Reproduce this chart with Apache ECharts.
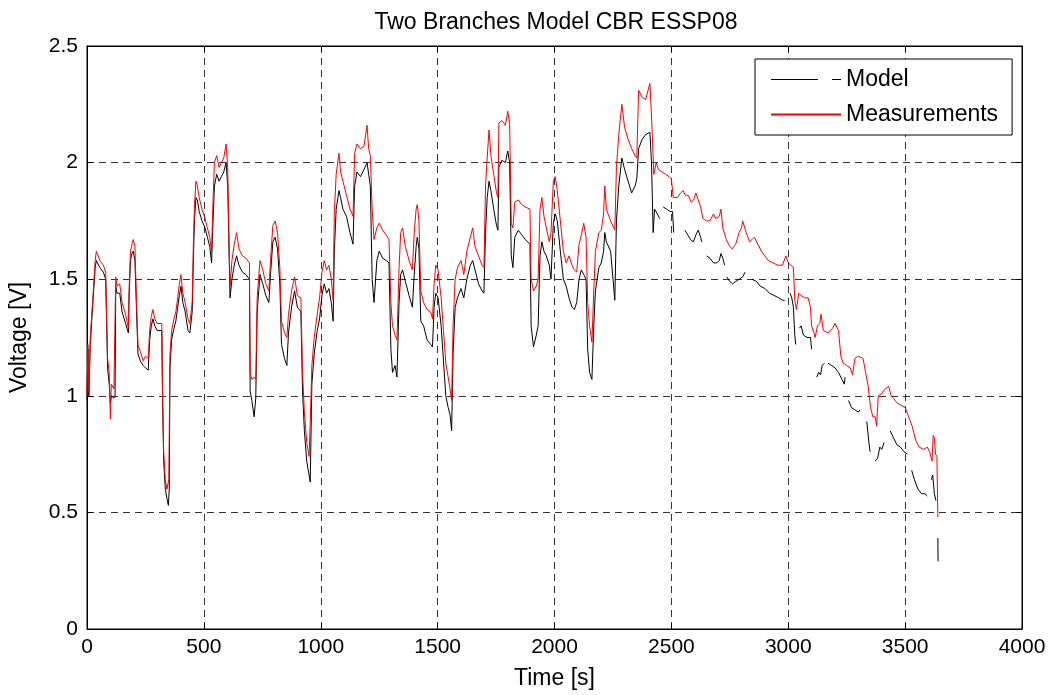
<!DOCTYPE html>
<html>
<head>
<meta charset="utf-8">
<script src="https://cdn.jsdelivr.net/npm/echarts@6/dist/echarts.min.js"></script>
<style>
html,body{margin:0;padding:0;background:#fff;}
#chart{width:1052px;height:695px;}
</style>
</head>
<body>
<div id="chart"></div>
<script>
const chartTitle = 'Two Branches Model CBR ESSP08';
const seriesNames = ['Model', 'Measurements'];
const xTicks = [0, 500, 1000, 1500, 2000, 2500, 3000, 3500, 4000];
const yTicks = [0, 0.5, 1, 1.5, 2, 2.5];

const tMeas = [0,4,8,14,25,35,40,55,70,80,86,88,95,100,104,115,120,123,128,140,150,165,177,180,186,192,198,205,212,218,228,240,250,262,268,275,282,290,300,320,323,328,335,342,350,355,362,372,380,388,395,402,410,420,432,440,450,455,460,466,472,480,492,505,515,525,533,538,545,555,565,575,585,595,602,606,612,620,630,640,650,665,680,695,698,705,715,722,728,740,752,765,778,785,795,805,815,825,832,845,855,862,875,888,900,915,922,930,940,950,955,962,972,985,995,1005,1015,1025,1035,1045,1053,1058,1066,1078,1085,1095,1110,1125,1138,1145,1155,1170,1185,1198,1205,1212,1220,1228,1240,1250,1265,1280,1292,1300,1307,1318,1326,1335,1342,1350,1362,1378,1392,1400,1408,1413,1420,1428,1440,1455,1470,1478,1485,1492,1502,1515,1525,1535,1545,1553,1560,1566,1575,1585,1600,1612,1625,1640,1650,1660,1675,1690,1698,1705,1712,1720,1728,1740,1752,1758,1762,1775,1790,1800,1808,1815,1822,1830,1845,1860,1875,1895,1900,1910,1922,1930,1938,1946,1955,1965,1978,1985,1995,2003,2012,2025,2038,2050,2062,2075,2085,2095,2105,2115,2125,2135,2142,2150,2160,2168,2175,2190,2200,2210,2215,2222,2240,2258,2265,2275,2288,2300,2315,2330,2345,2352,2360,2375,2390,2408,2415,2425,2435,2445,2460,2475,2490,2500,2508,2525,2540,2550,2560,2572,2585,2595,2605,2615,2625,2635,2650,2665,2680,2690,2705,2712,2720,2735,2750,2760,2775,2790,2800,2805,2820,2835,2845,2855,2870,2885,2900,2915,2935,2955,2975,2990,3000,3022,3028,3035,3045,3055,3070,3085,3095,3100,3110,3115,3125,3135,3140,3150,3170,3190,3200,3215,3225,3235,3250,3265,3275,3285,3300,3320,3342,3352,3362,3372,3378,3385,3400,3415,3430,3440,3450,3465,3480,3500,3515,3530,3545,3560,3580,3595,3605,3615,3620,3625,3630,3636,3640];
const vMeas = [1.00,1.22,1.02,1.25,1.42,1.58,1.62,1.58,1.56,1.53,1.53,1.16,1.10,0.90,1.05,1.03,1.03,1.51,1.47,1.48,1.40,1.35,1.29,1.45,1.62,1.65,1.67,1.64,1.40,1.22,1.19,1.15,1.17,1.16,1.28,1.34,1.37,1.33,1.31,1.31,1.03,0.76,0.64,0.60,0.64,1.18,1.28,1.33,1.36,1.42,1.48,1.52,1.44,1.40,1.33,1.31,1.40,1.65,1.82,1.92,1.90,1.85,1.80,1.76,1.72,1.68,1.62,1.80,2.00,2.03,1.98,2.00,2.02,2.08,1.98,1.75,1.47,1.58,1.65,1.70,1.63,1.60,1.59,1.57,1.10,1.07,1.08,1.07,1.42,1.58,1.54,1.48,1.45,1.58,1.73,1.75,1.70,1.55,1.32,1.27,1.25,1.35,1.45,1.51,1.43,1.42,1.10,0.93,0.80,0.74,0.88,1.13,1.25,1.35,1.42,1.53,1.58,1.54,1.56,1.50,1.41,1.78,1.95,2.04,1.96,1.92,1.86,1.80,1.77,2.04,2.08,2.06,2.07,2.16,2.06,2.03,1.80,1.67,1.72,1.74,1.71,1.69,1.67,1.40,1.30,1.26,1.24,1.55,1.70,1.72,1.64,1.58,1.54,1.70,1.80,1.82,1.75,1.45,1.40,1.37,1.36,1.33,1.48,1.56,1.54,1.42,1.28,1.14,1.08,1.03,0.98,1.30,1.50,1.55,1.58,1.52,1.62,1.68,1.72,1.64,1.60,1.56,1.55,1.90,2.02,2.14,2.03,1.95,1.87,1.85,2.17,2.18,2.16,2.22,2.17,1.74,1.72,1.83,1.84,1.82,1.81,1.80,1.50,1.45,1.47,1.50,1.80,1.85,1.77,1.72,1.66,1.70,1.92,1.94,1.88,1.75,1.62,1.57,1.60,1.56,1.54,1.53,1.65,1.69,1.74,1.68,1.40,1.30,1.23,1.45,1.62,1.70,1.71,1.78,1.90,1.80,1.75,1.71,1.98,2.12,2.25,2.15,2.10,2.06,2.03,2.02,2.31,2.28,2.27,2.34,2.20,1.95,2.00,1.97,1.96,1.95,1.94,1.93,1.85,1.85,1.87,1.88,1.86,1.86,1.83,1.84,1.87,1.84,1.81,1.76,1.75,1.75,1.78,1.76,1.77,1.80,1.72,1.67,1.64,1.63,1.65,1.70,1.72,1.75,1.70,1.66,1.67,1.68,1.65,1.62,1.60,1.58,1.57,1.56,1.56,1.60,1.57,1.55,1.41,1.37,1.44,1.43,1.42,1.42,1.38,1.30,1.27,1.25,1.30,1.31,1.35,1.28,1.27,1.29,1.31,1.28,1.17,1.14,1.13,1.12,1.09,1.16,1.17,1.16,1.04,0.95,0.91,0.91,0.87,1.00,1.01,1.03,1.04,1.00,0.99,0.97,0.96,0.95,0.91,0.87,0.81,0.78,0.77,0.78,0.76,0.72,0.83,0.82,0.75,0.74,0.48];

const tModel = [0,4,8,14,25,35,40,55,70,80,86,88,95,100,104,115,120,123,128,140,150,165,177,180,186,192,198,205,212,218,228,240,250,262,268,275,282,290,300,320,323,328,335,342,348,352,355,362,372,380,388,395,402,410,420,432,440,450,455,460,466,472,480,492,505,515,525,533,538,545,555,565,575,585,595,602,606,612,620,630,640,650,665,680,695,698,705,715,722,728,740,752,765,778,785,795,805,815,825,832,845,855,862,875,888,900,915,922,930,940,950,955,962,972,985,995,1005,1015,1025,1035,1045,1053,1058,1066,1078,1085,1095,1110,1125,1138,1145,1155,1170,1185,1198,1205,1212,1220,1228,1240,1250,1265,1280,1292,1300,1307,1318,1326,1335,1342,1350,1362,1378,1392,1400,1408,1413,1420,1428,1440,1455,1470,1478,1485,1492,1502,1515,1525,1535,1545,1553,1560,1566,1575,1585,1600,1612,1625,1640,1650,1660,1675,1690,1698,1705,1712,1720,1728,1740,1752,1758,1762,1775,1790,1800,1808,1815,1822,1830,1845,1860,1875,1895,1900,1910,1922,1930,1938,1946,1955,1965,1978,1985,1995,2003,2012,2025,2038,2050,2062,2075,2085,2095,2105,2115,2125,2135,2142,2150,2160,2168,2175,2190,2200,2210,2215,2222,2240,2258,2265,2275,2288,2300,2315,2330,2345,2352,2360,2375,2390,2408,2415,2422,2428,2440,2450,2457,2465,2480,2495,2505,2510,2530,2558,2570,2582,2594,2605,2615,2625,2630,2640,2651,2665,2680,2695,2705,2712,2720,2728,2732,2737,2750,2762,2775,2790,2805,2815,2830,2845,2865,2880,2900,2920,2940,2960,2975,2985,2995,3008,3015,3022,3028,3032,3040,3048,3055,3065,3080,3095,3100,3110,3122,3130,3138,3145,3155,3162,3170,3185,3200,3215,3230,3240,3243,3250,3258,3270,3285,3300,3307,3320,3336,3345,3350,3360,3371,3382,3392,3400,3410,3425,3436,3450,3465,3480,3495,3510,3520,3528,3540,3555,3570,3585,3595,3605,3612,3618,3625,3632,3635,3638,3640,3641];
const vModel = [0.98,1.20,1.00,1.22,1.40,1.55,1.58,1.55,1.53,1.50,1.50,1.12,1.05,0.97,1.00,0.99,1.00,1.47,1.44,1.44,1.36,1.31,1.27,1.42,1.58,1.61,1.62,1.58,1.36,1.18,1.15,1.13,1.12,1.11,1.24,1.30,1.33,1.30,1.28,1.28,1.00,0.72,0.60,0.56,0.53,0.60,1.12,1.24,1.29,1.32,1.38,1.43,1.47,1.40,1.36,1.28,1.27,1.36,1.58,1.76,1.85,1.84,1.79,1.75,1.72,1.68,1.64,1.57,1.72,1.90,1.95,1.92,1.94,1.96,2.00,1.90,1.70,1.42,1.50,1.56,1.60,1.56,1.53,1.52,1.50,1.02,0.98,0.91,0.99,1.36,1.52,1.48,1.43,1.40,1.52,1.66,1.68,1.63,1.48,1.22,1.16,1.13,1.27,1.38,1.45,1.38,1.36,1.02,0.85,0.72,0.66,0.63,1.05,1.18,1.28,1.33,1.43,1.48,1.44,1.46,1.40,1.32,1.62,1.80,1.88,1.85,1.80,1.77,1.70,1.65,1.90,1.96,1.94,1.97,2.00,1.95,1.90,1.50,1.40,1.58,1.62,1.59,1.58,1.57,1.20,1.10,1.13,1.08,1.40,1.52,1.54,1.49,1.43,1.38,1.52,1.64,1.68,1.63,1.32,1.30,1.24,1.22,1.21,1.38,1.44,1.42,1.30,1.15,1.00,0.95,0.92,0.85,1.18,1.38,1.42,1.46,1.42,1.50,1.56,1.58,1.54,1.48,1.45,1.44,1.70,1.85,1.92,1.88,1.80,1.73,1.71,1.98,2.01,2.00,2.05,2.00,1.60,1.55,1.68,1.71,1.69,1.67,1.65,1.30,1.21,1.26,1.30,1.60,1.66,1.62,1.60,1.56,1.50,1.74,1.78,1.75,1.62,1.50,1.47,1.42,1.38,1.37,1.40,1.50,1.54,1.52,1.50,1.20,1.10,1.07,1.30,1.45,1.55,1.57,1.62,1.70,1.66,1.62,1.41,1.75,1.90,2.02,1.97,1.92,1.87,1.90,1.93,2.06,2.10,2.12,2.13,2.00,1.70,1.80,1.78,1.76,null,1.81,1.80,1.79,1.79,1.70,null,1.71,1.69,1.67,1.66,1.69,1.71,1.68,1.66,null,1.60,1.59,1.57,1.57,1.58,1.61,1.59,1.56,null,1.51,1.49,1.48,1.49,1.50,1.51,1.53,null,1.50,1.49,1.47,1.46,1.44,1.43,1.42,1.41,1.41,null,1.44,1.42,1.38,1.26,1.22,null,1.29,1.30,1.26,1.25,1.25,1.20,null,1.08,1.10,1.09,1.13,1.14,null,1.14,1.13,1.12,1.10,1.07,1.05,1.08,null,0.98,0.95,0.94,0.93,0.94,null,0.89,0.80,0.76,null,0.72,0.73,0.78,0.77,0.80,null,0.85,0.82,0.79,0.78,0.76,0.75,null,0.68,0.64,0.60,0.58,0.58,0.57,null,0.64,0.66,0.58,0.55,0.55,null,0.39,0.29];

function zip(ts, vs) {
  return ts.map(function (t, i) { return [t, vs[i] === null ? null : vs[i]]; });
}

const font = '"Liberation Sans", Arial, Helvetica, sans-serif';
const gridDash = { color: '#333', width: 1, type: [7, 5] };
const plainNum = function (v) { return String(v); };

const chart = echarts.init(document.getElementById('chart'), null, { renderer: 'canvas' });
chart.setOption({
  animation: false,
  backgroundColor: '#fff',
  textStyle: { fontFamily: font, color: '#000' },
  title: {
    text: chartTitle,
    left: 551,
    top: 6,
    textAlign: 'center',
    textStyle: { fontFamily: font, fontSize: 23, fontWeight: 'normal', color: '#000' }
  },
  grid: { left: 87, right: 30, top: 46, bottom: 66, show: true, borderColor: '#000', borderWidth: 1, backgroundColor: '#fff' },
  legend: {
    orient: 'vertical',
    left: 755,
    top: 59,
    padding: [9, 14, 9, 15],
    itemGap: 12,
    itemWidth: 70,
    itemHeight: 14,
    backgroundColor: '#fff',
    borderColor: '#000',
    borderWidth: 1,
    borderRadius: 0,
    itemStyle: { opacity: 0 },
    textStyle: { fontFamily: font, fontSize: 23, color: '#000' },
    data: [
      { name: seriesNames[0], itemStyle: { opacity: 0 }, lineStyle: { type: [47, 14, 9, 14], color: '#000', width: 1 } },
      { name: seriesNames[1], itemStyle: { opacity: 0 } }
    ]
  },
  xAxis: [{
    type: 'value',
    min: xTicks[0],
    max: xTicks[xTicks.length - 1],
    interval: xTicks[1] - xTicks[0],
    name: 'Time [s]',
    nameLocation: 'middle',
    nameGap: 38,
    nameTextStyle: { fontFamily: font, fontSize: 23, color: '#000' },
    axisLine: { show: true, onZero: false, lineStyle: { color: '#000', width: 1 } },
    axisTick: { show: true, inside: true, length: 6, lineStyle: { color: '#000' } },
    axisLabel: { fontFamily: font, fontSize: 21, color: '#000', margin: 8, formatter: plainNum },
    splitLine: { show: true, lineStyle: gridDash }
  }, {
    type: 'value',
    position: 'top',
    min: xTicks[0],
    max: xTicks[xTicks.length - 1],
    interval: xTicks[1] - xTicks[0],
    axisLine: { show: true, onZero: false, lineStyle: { color: '#000', width: 1 } },
    axisTick: { show: true, inside: true, length: 6, lineStyle: { color: '#000' } },
    axisLabel: { show: false },
    splitLine: { show: false }
  }],
  yAxis: [{
    type: 'value',
    min: yTicks[0],
    max: yTicks[yTicks.length - 1],
    interval: yTicks[1] - yTicks[0],
    name: 'Voltage [V]',
    nameLocation: 'middle',
    nameGap: 56,
    nameTextStyle: { fontFamily: font, fontSize: 23, color: '#000' },
    axisLine: { show: true, onZero: false, lineStyle: { color: '#000', width: 1 } },
    axisTick: { show: true, inside: true, length: 6, lineStyle: { color: '#000' } },
    axisLabel: { fontFamily: font, fontSize: 21, color: '#000', margin: 9, formatter: plainNum },
    splitLine: { show: true, lineStyle: gridDash }
  }, {
    type: 'value',
    position: 'right',
    min: yTicks[0],
    max: yTicks[yTicks.length - 1],
    interval: yTicks[1] - yTicks[0],
    axisLine: { show: true, onZero: false, lineStyle: { color: '#000', width: 1 } },
    axisTick: { show: true, inside: true, length: 6, lineStyle: { color: '#000' } },
    axisLabel: { show: false },
    splitLine: { show: false }
  }],
  series: [{
    name: seriesNames[0],
    type: 'line',
    data: zip(tModel, vModel),
    symbol: 'none',
    connectNulls: false,
    lineStyle: { color: '#000', width: 1 },
    itemStyle: { color: '#000' },
    z: 2
  }, {
    name: seriesNames[1],
    type: 'line',
    data: zip(tMeas, vMeas),
    symbol: 'none',
    lineStyle: { color: '#ff0000', width: 1 },
    itemStyle: { color: '#ff0000' },
    z: 3
  }]
});
</script>
</body>
</html>
